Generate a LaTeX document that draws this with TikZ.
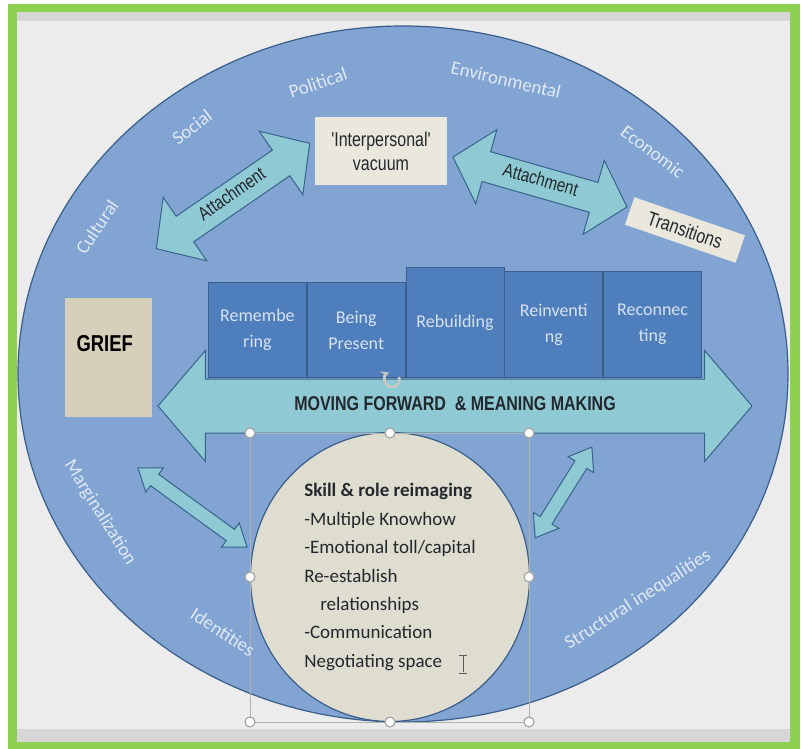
\documentclass[tikz,border=0pt]{standalone}
\usepackage{fontspec}
\setmainfont{Carlito}
\newfontfamily\narrowfont[FakeStretch=0.8]{Liberation Sans}
\usetikzlibrary{shapes, arrows, positioning, calc}

\definecolor{framegreen}{RGB}{142,208,80}
\definecolor{slidegray}{RGB}{236,236,236}
\definecolor{stripgray}{RGB}{214,214,214}
\definecolor{worldblue}{RGB}{129,164,210}
\definecolor{edgeblue}{RGB}{58,94,138}
\definecolor{stageblue}{RGB}{78,127,188}
\definecolor{stagetext}{RGB}{216,226,240}
\definecolor{arrowteal}{RGB}{142,201,212}
\definecolor{arrowedge}{RGB}{56,100,140}
\definecolor{sand}{RGB}{214,208,186}
\definecolor{paper}{RGB}{234,232,220}
\definecolor{skillfill}{RGB}{222,221,208}
\definecolor{ringtext}{RGB}{225,233,244}
\definecolor{inkdark}{RGB}{35,40,45}

\tikzset{
	stagebox/.style={draw=edgeblue, fill=stageblue, text=stagetext, minimum width=98, anchor=south west, align=center, line width=0.8, font=\fontsize{18}{26}\selectfont},
	notebox/.style={fill=paper, text=inkdark, align=center, font=\narrowfont\fontsize{20}{24}\selectfont},
	blockarrow/.style={double arrow, draw=arrowedge, fill=arrowteal, line width=1, text=inkdark},
	ringlabel/.style={text=ringtext, font=\fontsize{19}{22}\selectfont},
	handledot/.style={circle, draw=gray!70, fill=white, line width=1.2, inner sep=0, minimum size=10},
}

\begin{document}
\begin{tikzpicture}[x=1pt, y=-1pt]
	\useasboundingbox (0,0) rectangle (801,749);
	\fill[white] (0,0) rectangle (801,749);
	\fill[framegreen] (8,4) rectangle (800,749);
	\fill[slidegray] (17,12) rectangle (790,742);
	\fill[stripgray] (17,12) rectangle (790,21);
	\fill[stripgray] (17,729) rectangle (790,742);

	\node[ellipse, draw=edgeblue, fill=worldblue, line width=1.2, minimum width=770, minimum height=696] (world) at (403,374) {};

	\node[blockarrow, double arrow head extend=28.5, double arrow tip angle=99, minimum height=594, inner ysep=19, text height=12, text depth=3, font=\narrowfont\bfseries\fontsize{20}{24}\selectfont] (forward) at (455,406) {MOVING FORWARD \ \& MEANING MAKING};

	\node[stagebox, minimum height=95] (remember) at (208,378) {Remembe\\ring};
	\node[stagebox, minimum height=95] (present) at (remember.south east) {Being\\Present};
	\node[stagebox, minimum height=110] (rebuild) at (present.south east) {Rebuilding};
	\node[stagebox, minimum height=106] (reinvent) at (rebuild.south east) {Reinventi\\ng};
	\node[stagebox, minimum height=106] (reconnect) at (reinvent.south east) {Reconnec\\ting};

	\node[notebox, fill=sand, minimum width=87, minimum height=119, anchor=north west,
		label={[font=\narrowfont\bfseries\fontsize{23}{26}\selectfont, text=black, xshift=-4, yshift=14]center:GRIEF}] (grief) at (65,298) {};
	\node[notebox, minimum width=132, minimum height=68] (vacuum) at (381,151) {'Interpersonal'\\vacuum};
	\node[notebox, minimum width=117, minimum height=29, inner sep=1, rotate=-19] (transit) at (685,230) {Transitions};

	\node[blockarrow, double arrow head extend=23, double arrow tip angle=96, minimum height=186, inner ysep=9, text height=10, text depth=2, rotate=34.5, font=\narrowfont\fontsize{19}{22}\selectfont] (attachleft) at (233,196) {Attachment};
	\node[blockarrow, double arrow head extend=23, double arrow tip angle=96, minimum height=181, inner ysep=9, text height=10, text depth=2, rotate=-16, font=\narrowfont\fontsize{19}{22}\selectfont] (attachright) at (540,182) {Attachment};
	\node[blockarrow, double arrow head extend=8, double arrow tip angle=72, minimum height=135, inner ysep=6.5, text height=0, text depth=0, rotate=-36] (linkleft) at (192.5,507.5) {};
	\node[blockarrow, double arrow head extend=8, double arrow tip angle=72, minimum height=107, inner ysep=6.5, text height=0, text depth=0, rotate=58] (linkright) at (563.5,492.5) {};

	\node[ellipse, draw=edgeblue, fill=skillfill, line width=1.2, minimum width=279, minimum height=289, inner sep=0, align=left, text=inkdark, font=\fontsize{19}{28.4}\selectfont] (skill) at (390,577)
		{\textbf{Skill \& role reimaging}\\-Multiple Knowhow\\-Emotional toll/capital\\Re-establish\\\hspace*{16pt}relationships\\-Communication\\Negotiating space};

	\draw[gray!60, line width=0.6] (250,433) rectangle (529,722);
	\foreach \x/\y in {250/433, 390/433, 529/433, 250/577, 529/577, 250/722, 390/722, 529/722}
		\node[handledot] (h\x\y) at (\x,\y) {};
	\draw[gray!45, line width=2.6, ->, >=stealth] (399,377) arc[start angle=-20, end angle=250, radius=7.5];
	\draw[gray!70!black, line width=0.9] (463,656) -- (463,672) (459,655) -- (467,655) (459,673) -- (467,673);

	\foreach \name/\x/\y/\a/\txt in {cultural/97/227/56/Cultural, social/192/127/37/Social, political/318/83/19/Political,
		environ/506/80/-13/Environmental, economic/653/152/-37/Economic, margin/100/513/-58/Marginalization,
		identity/223/632/-33/Identities, struct/638/600/32.5/Structural inequalities}
		\node[ringlabel, rotate=\a] (\name) at (\x,\y) {\txt};
\end{tikzpicture}
\end{document}
